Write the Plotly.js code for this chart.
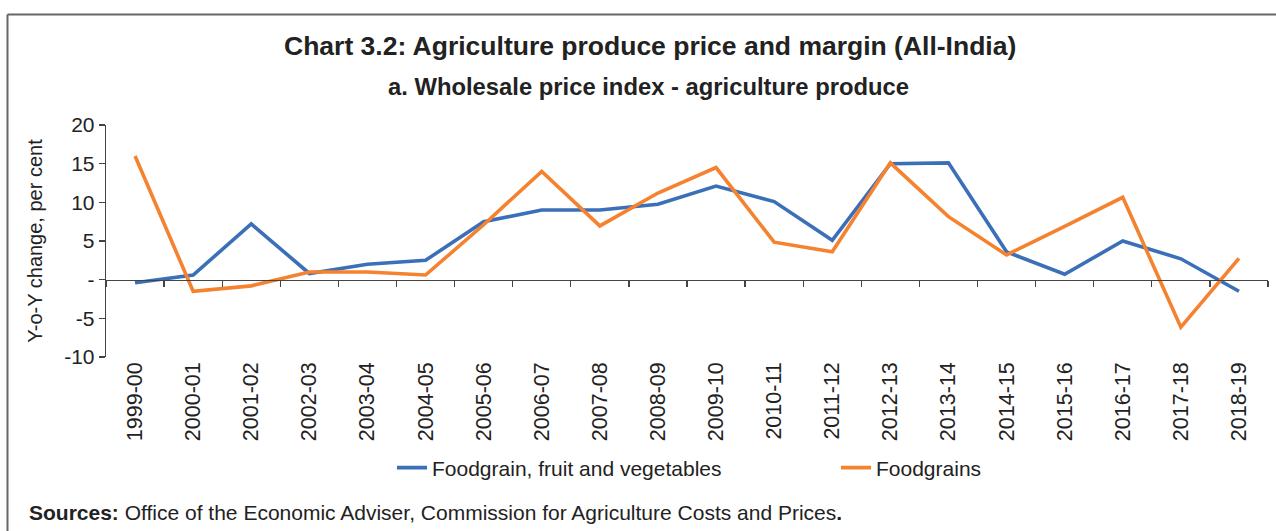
<!DOCTYPE html>
<html>
<head>
<meta charset="utf-8">
<script src="https://cdn.plot.ly/plotly-3.0.1.min.js"></script>
<style>
html,body{margin:0;padding:0;background:#fff;}
#chart{width:1276px;height:531px;}
</style>
</head>
<body>
<div id="chart"></div>
<script>
const categories = ["1999-00","2000-01","2001-02","2002-03","2003-04","2004-05","2005-06","2006-07","2007-08","2008-09","2009-10","2010-11","2011-12","2012-13","2013-14","2014-15","2015-16","2016-17","2017-18","2018-19"];
const foodgrainFruitVeg = [-0.4,0.6,7.2,0.8,2.0,2.5,7.5,9.0,9.0,9.75,12.1,10.1,5.1,15.0,15.1,3.6,0.7,5.0,2.7,-1.5];
const foodgrains = [16.0,-1.5,-0.8,1.0,1.0,0.6,7.1,14.0,6.95,11.2,14.5,4.85,3.6,15.1,8.15,3.2,6.9,10.65,-6.15,2.75];
const yTickVals = [20,15,10,5,0,-5,-10];
const yTickText = ["20","15","10","5","-","-5","-10"];

const FONT = '"Liberation Sans", Arial, sans-serif';
const W = 1276, H = 531;
const L = 106, R = 8, T = 125, B = 174;
const pw = W - L - R, ph = H - T - B;
const px = x => (x - L) / pw;
const py = y => (H - B - y) / ph;

const traces = [
  {x: categories, y: foodgrainFruitVeg, type: 'scatter', mode: 'lines', name: 'Foodgrain, fruit and vegetables',
   line: {color: '#3b6fb8', width: 3.6}, legend: 'legend'},
  {x: categories, y: foodgrains, type: 'scatter', mode: 'lines', name: 'Foodgrains',
   line: {color: '#f5822f', width: 3.6}, legend: 'legend2'},
  {x: categories, y: categories.map(() => null), type: 'scatter', mode: 'lines', xaxis: 'x2', yaxis: 'y',
   showlegend: false, hoverinfo: 'skip'}
];

const legendCommon = {orientation: 'h', xanchor: 'left', yanchor: 'middle',
  font: {family: FONT, size: 21, color: '#222'}, bgcolor: 'rgba(0,0,0,0)'};

const layout = {
  width: W, height: H,
  margin: {l: L, r: R, t: T, b: B},
  paper_bgcolor: '#fff', plot_bgcolor: '#fff',
  font: {family: FONT, color: '#222', size: 21},
  showlegend: true,
  legend: Object.assign({}, legendCommon, {x: px(392), y: py(468)}),
  legend2: Object.assign({}, legendCommon, {x: px(836), y: py(468)}),
  xaxis: {type: 'category', range: [-0.5, 19.5], showline: false, showgrid: false, zeroline: false,
          ticks: '', tickangle: -90, tickfont: {family: FONT, size: 21.5, color: '#222'}, fixedrange: true},
  xaxis2: {type: 'category', overlaying: 'x', anchor: 'free', position: 1/3, range: [-0.5, 19.5],
           showline: true, linecolor: '#444', linewidth: 1.3, showgrid: false, zeroline: false,
           ticks: 'outside', tickson: 'boundaries', ticklen: 6, tickcolor: '#444', tickwidth: 1.3,
           showticklabels: false, side: 'bottom'},
  yaxis: {range: [-10, 20], tickvals: yTickVals, ticktext: yTickText, showline: true, linecolor: '#444', linewidth: 1.3,
          ticks: 'outside', ticklen: 6, tickcolor: '#444', tickwidth: 1.3, showgrid: false, zeroline: false,
          tickfont: {family: FONT, size: 21, color: '#222'},
          title: {text: 'Y-o-Y change, per cent', font: {family: FONT, size: 20, color: '#222'}, standoff: 16}},
  annotations: [
    {text: '<b>Chart 3.2: Agriculture produce price and margin (All-India)</b>', xref: 'paper', yref: 'paper',
     x: px(650), y: py(46), xanchor: 'center', yanchor: 'middle', showarrow: false, font: {family: FONT, size: 26.5, color: '#222'}},
    {text: '<b>a. Wholesale price index - agriculture produce</b>', xref: 'paper', yref: 'paper',
     x: px(648), y: py(86), xanchor: 'center', yanchor: 'middle', showarrow: false, font: {family: FONT, size: 23.8, color: '#222'}},
    {text: '<b>Sources:</b> Office of the Economic Adviser, Commission for Agriculture Costs and Prices<b>.</b>', xref: 'paper', yref: 'paper',
     x: px(27), y: py(512), xanchor: 'left', yanchor: 'middle', showarrow: false, font: {family: FONT, size: 21, color: '#222'}}
  ],
  shapes: [
    {type: 'line', xref: 'paper', yref: 'paper', x0: px(7.5), x1: px(7.5), y0: py(14.5), y1: py(540), line: {color: '#666', width: 2}},
    {type: 'line', xref: 'paper', yref: 'paper', x0: px(7.5), x1: px(1290), y0: py(14.5), y1: py(14.5), line: {color: '#666', width: 2}}
  ]
};

Plotly.newPlot('chart', traces, layout, {displayModeBar: false, staticPlot: true});
</script>
</body>
</html>
